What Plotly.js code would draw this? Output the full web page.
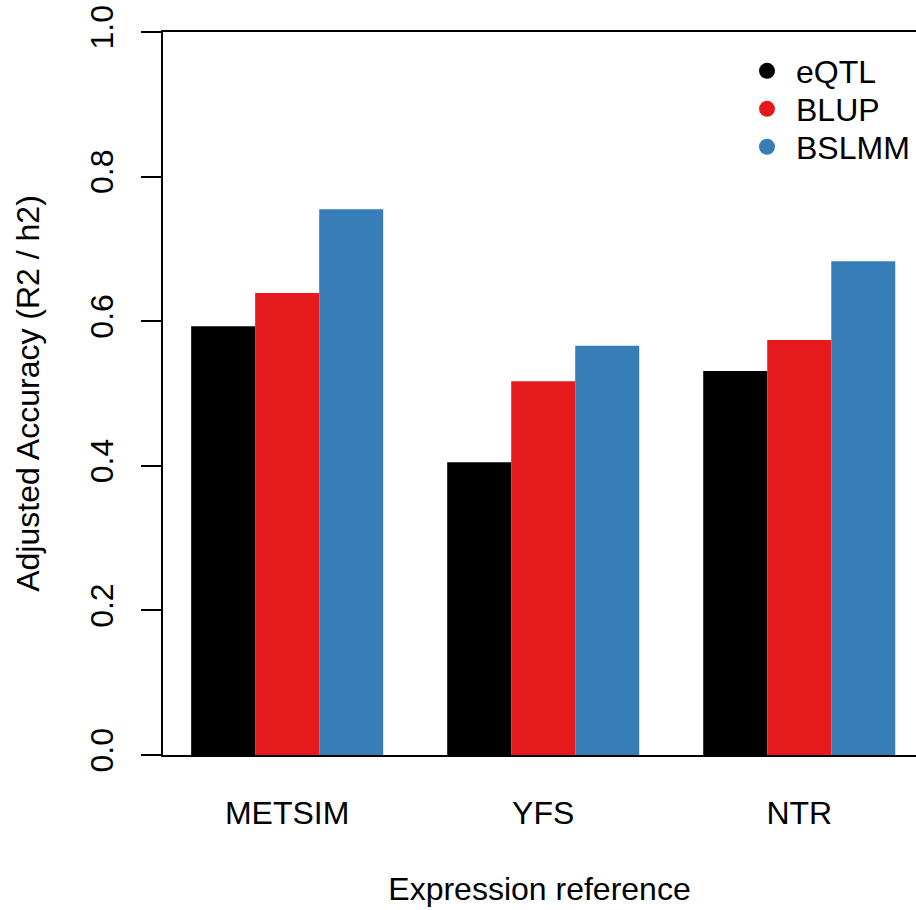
<!DOCTYPE html>
<html>
<head>
<meta charset="utf-8">
<script src="https://cdn.plot.ly/plotly-3.0.1.min.js"></script>
<style>html,body{margin:0;padding:0;background:#fff;}#chart{width:916px;height:910px;}</style>
</head>
<body>
<div id="chart"></div>
<script>
const categories = ["METSIM", "YFS", "NTR"];
const eqtl  = [0.593, 0.405, 0.531];
const blup  = [0.639, 0.517, 0.574];
const bslmm = [0.755, 0.566, 0.683];
const seriesNames = ["eQTL", "BLUP", "BSLMM"];
const seriesColors = ["#000000", "#E41A1C", "#377EB8"];
const yTicks = [0, 0.2, 0.4, 0.6, 0.8, 1.0];
const yTickText = ["0.0", "0.2", "0.4", "0.6", "0.8", "1.0"];

const font = {family: "Liberation Sans, Arial, sans-serif", size: 32, color: "#000"};
const values = [eqtl, blup, bslmm];
const legendIds = ["legend", "legend2", "legend3"];
const legendY = [0.946, 0.8935, 0.841];

const traces = [];
values.forEach((v, i) => {
  traces.push({type: "bar", x: categories, y: v, name: seriesNames[i],
    marker: {color: seriesColors[i], line: {width: 0}}, showlegend: false, hoverinfo: "x+y"});
});
values.forEach((v, i) => {
  traces.push({type: "scatter", mode: "markers", x: [null], y: [null], name: seriesNames[i],
    marker: {color: seriesColors[i], symbol: "circle", size: 16}, showlegend: true,
    legend: legendIds[i]});
});

const layout = {
  width: 916, height: 910,
  margin: {l: 163, r: 0, t: 32, b: 155, pad: 0},
  paper_bgcolor: "#fff", plot_bgcolor: "#fff",
  font: font,
  barmode: "group", bargap: 0.25, bargroupgap: 0,
  showlegend: true,
  xaxis: {type: "category", range: [-0.485, 2.456], showline: true, mirror: true,
    linecolor: "#000", linewidth: 2, ticks: "", showgrid: false, zeroline: false,
    tickfont: font, ticklabelstandoff: 29,
    title: {text: "Expression reference", font: font, standoff: 47}},
  yaxis: {range: [0, 1], tickvals: yTicks, ticktext: yTickText, ticks: "outside",
    ticklen: 20, tickwidth: 2, tickcolor: "#000", tickangle: -90, showline: true,
    linecolor: "#000", linewidth: 2, showgrid: false, zeroline: false,
    tickfont: font, ticklabelstandoff: 15,
    title: {text: "Adjusted Accuracy (R2 / h2)", font: font, standoff: 35}}
};
legendIds.forEach((id, i) => {
  layout[id] = {x: 0.7636, xanchor: "left", y: legendY[i], yanchor: "middle",
    bgcolor: "rgba(0,0,0,0)", font: font, itemwidth: 48, borderwidth: 0};
});

Plotly.newPlot("chart", traces, layout, {displayModeBar: false, staticPlot: true});
</script>
</body>
</html>
